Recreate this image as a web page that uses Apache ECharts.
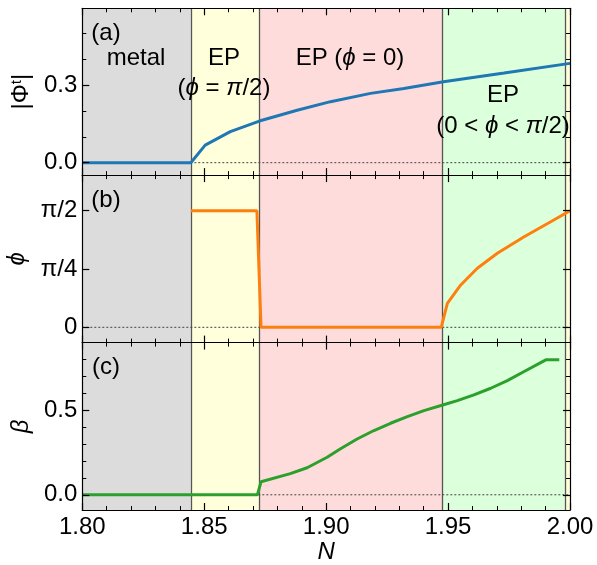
<!DOCTYPE html>
<html><head><meta charset="utf-8">
<script src="https://cdn.jsdelivr.net/npm/echarts@6/dist/echarts.min.js"></script>
<style>html,body{margin:0;padding:0;background:#fff}#c{width:597px;height:565px}</style>
</head><body><div id="c"></div>
<script>
// ---------------- data ----------------
const xMin = 1.80, xMax = 2.00;
const xTickValues = [1.80, 1.85, 1.90, 1.95, 2.00];
const phaseBounds = [1.80, 1.8445, 1.8727, 1.9478, 1.9979, 2.00];

// panel (a): |Phi^t|
const N_a = [1.80, 1.8445, 1.8504, 1.8607, 1.8726, 1.8881, 1.9018, 1.9182, 1.9319, 1.9481, 1.973, 2.00];
const phiT = [0, 0, 0.068, 0.120, 0.161, 0.203, 0.236, 0.268, 0.287, 0.313, 0.347, 0.384];
// panel (b): phi (radians)
const N_b = [1.8445, 1.8716, 1.8733, 1.9472, 1.9497, 1.9552, 1.9620, 1.9702, 1.9812, 1.9921, 2.00];
const phi = [1.5708, 1.5708, 0, 0, 0.323, 0.570, 0.795, 0.997, 1.220, 1.422, 1.5708];
// panel (c): beta
const N_c = [1.80, 1.8718, 1.8733, 1.8853, 1.8922, 1.9004, 1.9059, 1.9127, 1.9196, 1.9264, 1.9333, 1.9401, 1.9478, 1.9538, 1.9606, 1.9675, 1.9743, 1.9812, 1.9901, 1.9956];
const beta = [0, 0, 0.077, 0.125, 0.16, 0.222, 0.272, 0.33, 0.38, 0.423, 0.462, 0.498, 0.531, 0.557, 0.591, 0.630, 0.675, 0.729, 0.798, 0.798];

// tick values / labels
const aMajor = [0, 0.3], aMinor = [0.1, 0.2, 0.4, 0.5], aLabels = ['0.0', '0.3'];
const bMajor = [0, 0.7854, 1.5708], bLabels = ['0', 'π/4', 'π/2'];
const cMajor = [0, 0.5], cMinor = [0.1, 0.2, 0.3, 0.4, 0.6, 0.7, 0.8], cLabels = ['0.0', '0.5'];

// ---------------- styles ----------------
const FONT = '"Liberation Sans", Arial, sans-serif';
const phaseColors = ['#dcdcdc', '#ffffdc', '#ffdcdc', '#dcffdc', '#ffffdc'];
const lineColors = ['#1f77b4', '#ff7f0e', '#2ca02c'];
const gridDefs = [
  { top: 8.3, height: 166.8, ymin: -0.048, ymax: 0.597 },
  { top: 175.1, height: 167.5, ymin: -0.206, ymax: 2.05 },
  { top: 342.6, height: 167.4, ymin: -0.09, ymax: 0.9 }
];
const LEFT = 82.3, RIGHT = 27;

const grid = gridDefs.map(g => ({ left: LEFT, right: RIGHT, top: g.top, height: g.height, containLabel: false, outerBoundsMode: 'none', show: false }));

const xAxis = [];
gridDefs.forEach((g, gi) => {
  ['bottom', 'top'].forEach(pos => {
    const showLabel = gi === 2 && pos === 'bottom';
    xAxis.push({
      gridIndex: gi, type: 'value', min: xMin, max: xMax, interval: 0.05, position: pos, z: 10,
      axisLine: { show: true, onZero: false, lineStyle: { color: '#000', width: 1.2 } },
      axisTick: { show: true, inside: true, length: 7, lineStyle: { color: '#000', width: 1.2 } },
      minorTick: { show: true, splitNumber: 5, length: 4, lineStyle: { color: '#000', width: 1 } },
      axisLabel: { show: showLabel, margin: 5, fontSize: 24, color: '#000', fontFamily: FONT,
        formatter: v => { const i = xTickValues.findIndex(t => Math.abs(t - v) < 1e-6); return i >= 0 ? v.toFixed(2) : ''; } },
      splitLine: { show: false },
      name: showLabel ? 'N' : '', nameLocation: 'middle', nameGap: 23,
      nameTextStyle: { fontSize: 24, fontStyle: 'italic', color: '#000', fontFamily: FONT }
    });
  });
});

const yAxis = [];
function addY(gi, major, minor, labels, name, nameRich) {
  const g = gridDefs[gi];
  ['left', 'right'].forEach(pos => {
    const isLeft = pos === 'left';
    yAxis.push({
      gridIndex: gi, type: 'value', min: g.ymin, max: g.ymax, position: pos, z: 10,
      axisLine: { show: true, onZero: false, lineStyle: { color: '#000', width: 1.2 } },
      axisTick: { show: true, inside: true, length: 7, customValues: major, lineStyle: { color: '#000', width: 1.2 } },
      axisLabel: { show: isLeft, customValues: major, margin: 5, fontSize: 24, color: '#000', fontFamily: FONT,
        formatter: v => { const i = major.findIndex(t => Math.abs(t - v) < 1e-6); return i >= 0 ? labels[i] : ''; } },
      splitLine: { show: false },
      name: isLeft ? name : '', nameLocation: 'middle', nameGap: 47, nameRotate: 90,
      nameTextStyle: Object.assign({ fontSize: 24, color: '#000', fontFamily: FONT }, nameRich || {})
    });
    yAxis.push({
      gridIndex: gi, type: 'value', min: g.ymin, max: g.ymax, position: pos, z: 10,
      axisLine: { show: false },
      axisTick: { show: minor.length > 0, inside: true, length: 4, customValues: minor.length ? minor : [0], lineStyle: { color: '#000', width: 1 } },
      axisLabel: { show: false }, splitLine: { show: false }
    });
  });
}
addY(0, aMajor, aMinor, aLabels, '{a||Φ}{s|t}{a||}', { rich: { a: { fontSize: 24, fontFamily: FONT, color: '#000' }, s: { fontSize: 15, fontFamily: FONT, color: '#000', verticalAlign: 'top', padding: [0, 0, 8, 0] } } });
addY(1, bMajor, [], bLabels, 'ϕ', { fontStyle: 'italic' });
addY(2, cMajor, cMinor, cLabels, 'β', { fontStyle: 'italic' });

const series = [];
const dataSets = [[N_a, phiT], [N_b, phi], [N_c, beta]];
gridDefs.forEach((g, gi) => {
  const xi = gi * 2, yi = gi * 4;
  const areas = [];
  for (let i = 0; i < phaseBounds.length - 1; i++) {
    areas.push([{ xAxis: phaseBounds[i], itemStyle: { color: phaseColors[i], opacity: 1 } }, { xAxis: phaseBounds[i + 1] }]);
  }
  series.push({ type: 'line', xAxisIndex: xi, yAxisIndex: yi, data: [], z: 1, silent: true,
    markArea: { silent: true, z: 1, data: areas, label: { show: false } } });
  series.push({ type: 'line', xAxisIndex: xi, yAxisIndex: yi, data: [], z: 2, silent: true,
    markLine: { silent: true, z: 2, precision: 6, symbol: ['none', 'none'], label: { show: false },
      lineStyle: { color: '#555', type: 'solid', width: 1.3 },
      data: phaseBounds.slice(1, -1).map(b => ({ xAxis: b })) } });
  series.push({ type: 'line', xAxisIndex: xi, yAxisIndex: yi, z: 3, silent: true, showSymbol: false, symbol: 'none',
    data: [[xMin, 0], [xMax, 0]], lineStyle: { color: '#444', width: 1, type: [2, 2] } });
  const [xs, ys] = dataSets[gi];
  series.push({ type: 'line', xAxisIndex: xi, yAxisIndex: yi, z: 4, showSymbol: false, symbol: 'none',
    data: xs.map((x, i) => [x, ys[i]]), lineStyle: { color: lineColors[gi], width: 3 } });
});

const txt = (x, y, text, extra) => ({ type: 'text', x, y, z: 100, silent: true,
  style: Object.assign({ text, fontSize: 24, fontFamily: FONT, fill: '#000', align: 'center', verticalAlign: 'middle' }, extra || {}) });
const mathRich = { r: { fontSize: 24, fontFamily: FONT, fill: '#000' }, i: { fontSize: 24, fontFamily: FONT, fontStyle: 'italic', fill: '#000' } };

const graphic = [
  txt(106, 33, '(a)'),
  txt(106, 200, '(b)'),
  txt(106, 367, '(c)'),
  txt(136, 58, 'metal'),
  txt(224, 58, 'EP'),
  txt(224, 88, '{r|(}{i|ϕ}{r| = }{i|π}{r|/2)}', { rich: mathRich }),
  txt(350, 58, '{r|EP (}{i|ϕ}{r| = 0)}', { rich: mathRich }),
  txt(503, 95, 'EP'),
  txt(503, 126, '{r|(0 < }{i|ϕ}{r| < }{i|π}{r|/2)}', { rich: mathRich })
];

const chart = echarts.init(document.getElementById('c'), null, { renderer: 'canvas' });
chart.setOption({ animation: false, backgroundColor: '#fff', grid, xAxis, yAxis, series, graphic });
</script></body></html>
